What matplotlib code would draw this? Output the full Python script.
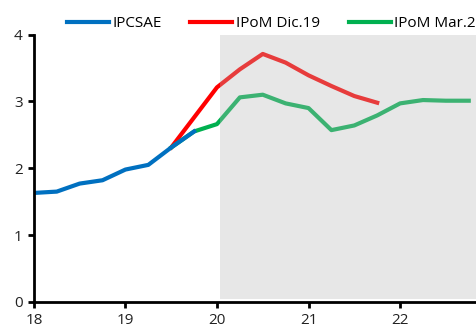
import matplotlib.pyplot as plt
import numpy as np

plt.rcParams['font.family'] = ['Open Sans', 'DejaVu Sans']

# trimestres (año.fracción)
t_ipcsae = [18.0, 18.25, 18.5, 18.75, 19.0, 19.25, 19.5, 19.75]
ipcsae = [1.63, 1.65, 1.77, 1.82, 1.98, 2.05, 2.31, 2.55]

t_dic19 = [19.5, 19.75, 20.0, 20.25, 20.5, 20.75, 21.0, 21.25, 21.5, 21.75]
ipom_dic19 = [2.31, 2.76, 3.21, 3.48, 3.71, 3.58, 3.39, 3.23, 3.08, 2.98]

t_mar20 = [19.5, 19.75, 20.0, 20.25, 20.5, 20.75, 21.0, 21.25, 21.5, 21.75,
           22.0, 22.25, 22.5, 22.75]
ipom_mar20 = [2.31, 2.55, 2.66, 3.06, 3.10, 2.97, 2.90, 2.57, 2.64, 2.79,
              2.97, 3.02, 3.01, 3.01]

fig = plt.figure(figsize=(4.77, 3.26), dpi=100)
ax = fig.add_axes([0.071, 0.074, 0.929, 0.82])

ax.plot(t_dic19, ipom_dic19, color='#ff0000', lw=3, label='IPoM Dic.19', zorder=2)
ax.plot(t_mar20, ipom_mar20, color='#00b050', lw=3, label='IPoM Mar.20', zorder=2)
ax.plot(t_ipcsae, ipcsae, color='#0070c0', lw=3, label='IPCSAE', zorder=3)

# zona de proyección
ax.fill_between([20.03, 23.0], 0.04, 4.0, color='#b9b9b9', alpha=0.33,
                lw=0, zorder=4)

ax.set_xlim(18, 22.84)
ax.set_ylim(0, 4)
ax.set_xticks([18, 19, 20, 21, 22])
ax.set_yticks([0, 1, 2, 3, 4])
ax.set_xticklabels(['18', '19', '20', '21', '22'])

for s in ['top', 'right']:
    ax.spines[s].set_visible(False)
for s in ['left', 'bottom']:
    ax.spines[s].set_linewidth(2)
    ax.spines[s].set_zorder(5)
ax.tick_params(direction='out', length=4, width=2, labelsize=11,
               colors='black', labelcolor='#222222', pad=4)

h, l = ax.get_legend_handles_labels()
order = [2, 0, 1]
ax.legend([h[i] for i in order], [l[i] for i in order], loc='lower left',
          bbox_to_anchor=(0.061, 0.99), ncol=3, frameon=False, fontsize=11,
          handlelength=2.75, handletextpad=0.2, columnspacing=1.9,
          borderaxespad=0)

fig.savefig('out.png', dpi=100)
